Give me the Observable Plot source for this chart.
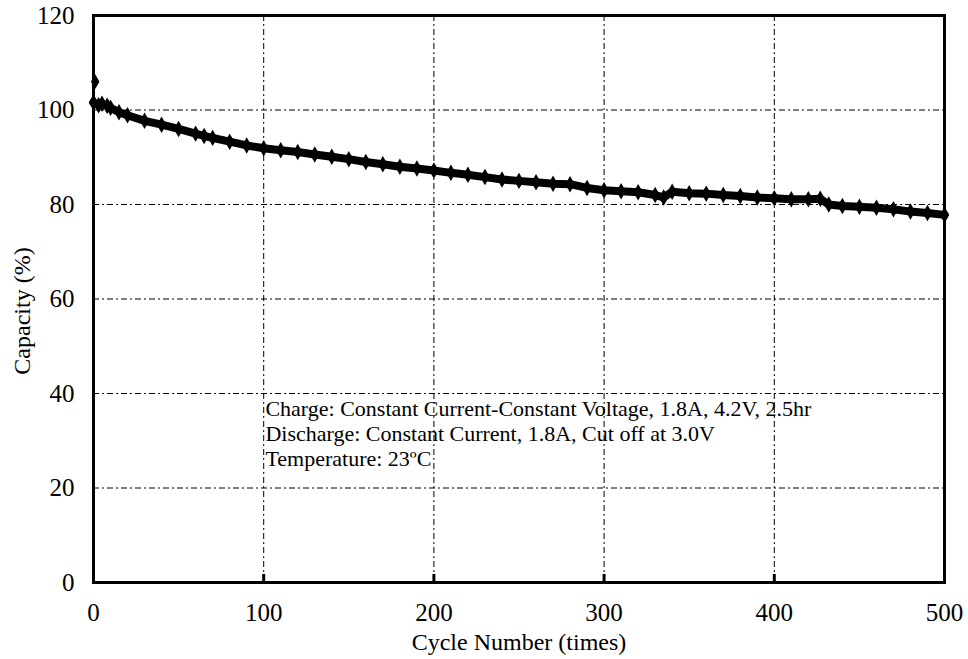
<!DOCTYPE html>
<html>
<head>
<meta charset="utf-8">
<script src="https://cdn.jsdelivr.net/npm/d3@7"></script>
<script src="https://cdn.jsdelivr.net/npm/@observablehq/plot@0.6"></script>
<style>
html, body { margin: 0; padding: 0; background: #fff; }
svg { display: block; }
</style>
</head>
<body>
<div id="chart"></div>
<script>
const cycles = [0,3,5,8,10,15,20,30,40,50,60,65,70,80,90,100,110,120,130,140,150,160,170,180,190,200,210,220,230,240,250,260,270,280,290,300,310,320,330,335,340,350,360,370,380,390,400,410,420,427,432,440,450,460,470,480,490,500];
const capacity = [101.6,101.0,101.3,100.9,100.5,99.5,98.9,97.7,96.9,96.0,95.0,94.5,94.1,93.3,92.5,91.9,91.5,91.1,90.6,90.1,89.6,89.0,88.5,88.0,87.6,87.2,86.7,86.3,85.8,85.3,85.0,84.7,84.4,84.3,83.5,83.0,82.8,82.6,82.0,81.5,82.7,82.4,82.3,82.0,81.8,81.5,81.3,81.1,81.1,81.2,80.0,79.7,79.5,79.3,79.0,78.5,78.2,77.8];
const outlierCycles = [1];
const outlierCapacity = [106];
const xTicks = [0,100,200,300,400,500];
const yTicks = [0,20,40,60,80,100,120];
const gridX = [100,200,300,400];
const gridY = [20,40,60,80,100];
const notes = [
  "Charge: Constant Current-Constant Voltage, 1.8A, 4.2V, 2.5hr",
  "Discharge: Constant Current, 1.8A, Cut off at 3.0V",
  "Temperature: 23ºC"
];

const data = cycles.map((c, i) => ({cycle: c, cap: capacity[i]}));
const outliers = outlierCycles.map((c, i) => ({cycle: c, cap: outlierCapacity[i]}));
const font = "'Liberation Serif', 'Times New Roman', serif";

const chart = Plot.plot({
  width: 968,
  height: 659,
  marginLeft: 93,
  marginRight: 24,
  marginTop: 15,
  marginBottom: 77,
  style: {fontFamily: font, fontSize: "25px", color: "#000", background: "#fff"},
  x: {domain: [0, 500]},
  y: {domain: [0, 120]},
  marks: [
    Plot.ruleX(gridX, {stroke: "#000", strokeWidth: 1, strokeDasharray: "6,3,2,3"}),
    Plot.ruleY(gridY, {stroke: "#000", strokeWidth: 1, strokeDasharray: "6,3,2,3"}),
    Plot.ruleX(gridX, {y1: 0, y2: 1.7, stroke: "#000", strokeWidth: 3}),
    Plot.axisX({ticks: xTicks, tickSize: 0, tickPadding: 21, label: null, fontSize: 25}),
    Plot.axisY({ticks: yTicks, tickSize: 0, tickPadding: 19, label: null, fontSize: 25}),
    Plot.text(["Cycle Number (times)"], {frameAnchor: "bottom", lineAnchor: "middle", dy: 60, fontSize: 24, fill: "#000"}),
    Plot.text(["Capacity (%)"], {frameAnchor: "left", textAnchor: "middle", dx: -71, dy: 12, rotate: -90, fontSize: 24, fill: "#000"}),
    Plot.line(data, {x: "cycle", y: "cap", stroke: "#000", strokeWidth: 8, strokeLinejoin: "round", strokeLinecap: "round"}),
    Plot.dot(data, {x: "cycle", y: "cap", symbol: "diamond", r: 5, fill: "#000", stroke: "none"}),
    Plot.dot(outliers, {x: "cycle", y: "cap", symbol: "diamond", r: 4.5, fill: "#000", stroke: "none"}),
    Plot.text([notes.join("\n")], {x: 101, y: 38.9, text: d => d, textAnchor: "start", lineAnchor: "top", lineHeight: 1.13, fontSize: 22, fill: "#000"}),
    Plot.frame({stroke: "#000", strokeWidth: 3})
  ]
});
document.getElementById("chart").appendChild(chart);
</script>
</body>
</html>
